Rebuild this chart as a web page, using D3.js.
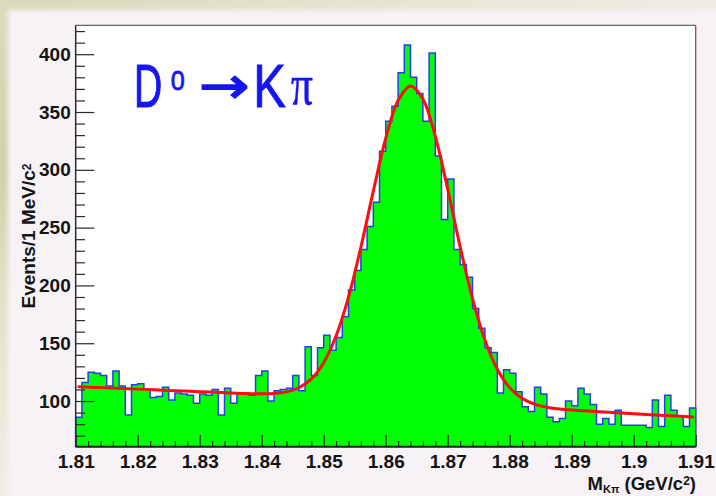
<!DOCTYPE html>
<html>
<head>
<meta charset="utf-8">
<script src="https://cdn.jsdelivr.net/npm/d3@7"></script>
<style>
  html, body { margin: 0; padding: 0; background: #f6f2f6; }
  svg { display: block; }
</style>
</head>
<body>
<svg id="chart" width="716" height="496"></svg>
<script>
// K-pi invariant mass histogram, 1 MeV bins from 1.81 to 1.91 GeV/c^2
const histRange = [1.81, 1.91];
const binCounts = [
  86, 116, 125, 124, 122, 113, 126, 113, 88, 114,
  115, 110, 103, 104, 112, 101, 107, 106, 105, 98,
  106, 105, 110, 88, 111, 98, 107, 107, 105, 122,
  126, 100, 109, 110, 111, 122, 109, 147, 122, 146,
  157, 144, 155, 173, 196, 213, 231, 251, 272, 316,
  342, 355, 384, 408, 380, 366, 342, 401, 312, 257,
  292, 231, 218, 207, 180, 163, 146, 142, 107, 127,
  124, 108, 95, 91, 112, 106, 86, 82, 85, 100,
  96, 111, 106, 97, 80, 85, 80, 92, 79, 79,
  79, 79, 77, 101, 78, 105, 92, 87, 78, 94
];

// fitted signal + background curve, sampled along the mass axis
const fitMass = [1.8105, 1.815, 1.820, 1.825, 1.830, 1.835, 1.838, 1.840, 1.842, 1.844,
  1.846, 1.848, 1.850, 1.852, 1.854, 1.856, 1.858, 1.860, 1.862, 1.864,
  1.866, 1.868, 1.870, 1.872, 1.874, 1.876, 1.878, 1.880, 1.882, 1.884,
  1.886, 1.888, 1.892, 1.896, 1.900, 1.905, 1.9095];
const fitEvents = [112.4, 111.4, 110.3, 109.2, 108.1, 107.0, 106.4, 106.2, 106.6, 107.9,
  111.5, 119.1, 133.2, 156.4, 189.9, 233.2, 281.6, 327.1, 360.0, 372.6,
  361.3, 329.0, 283.3, 233.6, 188.5, 152.7, 127.5, 111.5, 102.3, 97.3,
  94.7, 93.2, 91.6, 90.3, 89.0, 87.5, 86.2];

const xTickLabels = ["1.81", "1.82", "1.83", "1.84", "1.85", "1.86", "1.87", "1.88", "1.89", "1.9", "1.91"];
const yTickValues = [100, 150, 200, 250, 300, 350, 400];
const yRange = [60.5, 425];

const W = 716, H = 496;
const frame = { left: 75.7, right: 695.7, top: 25.3, bottom: 446.7 };

const svg = d3.select("#chart");
const defs = svg.append("defs");

// slide background behind the canvas
const lg = defs.append("linearGradient").attr("id", "leftBand").attr("x1", 0).attr("y1", 0).attr("x2", 0).attr("y2", 1);
lg.append("stop").attr("offset", "0").attr("stop-color", "#dddcc0");
lg.append("stop").attr("offset", "0.35").attr("stop-color", "#cfd0a9");
lg.append("stop").attr("offset", "0.6").attr("stop-color", "#e2e2c8");
lg.append("stop").attr("offset", "1").attr("stop-color", "#f0efe6");
const tg = defs.append("linearGradient").attr("id", "topBand").attr("x1", 0).attr("y1", 0).attr("x2", 1).attr("y2", 0);
tg.append("stop").attr("offset", "0").attr("stop-color", "#d9d8b9");
tg.append("stop").attr("offset", "0.5").attr("stop-color", "#e6e4d0");
tg.append("stop").attr("offset", "1").attr("stop-color", "#efece4");
defs.append("filter").attr("id", "soft").attr("x", "-20%").attr("y", "-20%").attr("width", "140%").attr("height", "140%")
  .append("feGaussianBlur").attr("stdDeviation", 2.5);

svg.append("rect").attr("width", W).attr("height", H).attr("fill", "#f6f2f6");
svg.append("rect").attr("x", -6).attr("y", -6).attr("width", W + 12).attr("height", 16)
  .attr("fill", "url(#topBand)").attr("filter", "url(#soft)");
svg.append("rect").attr("x", -6).attr("y", -6).attr("width", 14).attr("height", H + 12)
  .attr("fill", "url(#leftBand)").attr("filter", "url(#soft)");

// plot frame background
svg.append("rect")
  .attr("x", frame.left).attr("y", frame.top)
  .attr("width", frame.right - frame.left).attr("height", frame.bottom - frame.top)
  .attr("fill", "#ffffff");

const x = d3.scaleLinear().domain(histRange).range([frame.left, frame.right]);
const y = d3.scaleLinear().domain(yRange).range([frame.bottom, frame.top]);

const nBins = binCounts.length;
const binWidth = (histRange[1] - histRange[0]) / nBins;
const steps = binCounts.map((c, i) => ({ m: histRange[0] + i * binWidth, c }));
steps.push({ m: histRange[1], c: binCounts[nBins - 1] });

const plot = svg.append("g");

// filled histogram
plot.append("path")
  .datum(steps)
  .attr("fill", "#00ff00")
  .attr("d", d3.area().curve(d3.curveStepAfter)
    .x(d => x(d.m)).y0(frame.bottom).y1(d => y(d.c)));

// histogram outline
const outline = [{ m: histRange[0], c: yRange[0] }, ...steps, { m: histRange[1], c: yRange[0] }];
plot.append("path")
  .datum(outline)
  .attr("fill", "none")
  .attr("stroke", "#2a3cf2")
  .attr("stroke-width", 1.5)
  .attr("stroke-linejoin", "miter")
  .attr("d", d3.line().curve(d3.curveStepAfter).x(d => x(d.m)).y(d => y(d.c)));

// fit curve
plot.append("path")
  .datum(fitMass.map((m, i) => [m, fitEvents[i]]))
  .attr("fill", "none")
  .attr("stroke", "#ff0d0d")
  .attr("stroke-width", 3)
  .attr("stroke-linecap", "round")
  .attr("d", d3.line().curve(d3.curveCatmullRom.alpha(0.5)).x(d => x(d[0])).y(d => y(d[1])));

// frame edges
svg.append("line").attr("x1", frame.left).attr("x2", frame.right).attr("y1", frame.top).attr("y2", frame.top)
  .attr("stroke", "#666").attr("stroke-width", 1.2);
svg.append("line").attr("x1", frame.right).attr("x2", frame.right).attr("y1", frame.top).attr("y2", frame.bottom)
  .attr("stroke", "#a03a3a").attr("stroke-width", 1.2);

const labelFont = "'Liberation Sans', Arial, Helvetica, sans-serif";

// y axis: major and minor ticks pointing into the frame
const yMinor = d3.range(70, 421, 10).filter(v => !yTickValues.includes(v));
const yAxisMinor = svg.append("g").attr("transform", `translate(${frame.left},0)`)
  .call(d3.axisLeft(y).tickValues(yMinor).tickSizeInner(-9.3).tickSizeOuter(0).tickFormat(""));
const yAxis = svg.append("g").attr("transform", `translate(${frame.left},0)`)
  .call(d3.axisLeft(y).tickValues(yTickValues).tickSizeInner(-18.6).tickSizeOuter(0).tickPadding(5));

// x axis
const xMajor = xTickLabels.map(s => +s);
const xMinor = d3.range(0, 51).map(k => histRange[0] + k * 0.002).filter((v, k) => k % 5 !== 0);
const xAxisMinor = svg.append("g").attr("transform", `translate(0,${frame.bottom})`)
  .call(d3.axisBottom(x).tickValues(xMinor).tickSizeInner(-5.8).tickSizeOuter(0).tickFormat(""));
const xAxis = svg.append("g").attr("transform", `translate(0,${frame.bottom})`)
  .call(d3.axisBottom(x).tickValues(xMajor).tickSizeInner(-11.7).tickSizeOuter(0).tickPadding(8)
    .tickFormat((d, i) => xTickLabels[i]));

[yAxisMinor, yAxis, xAxisMinor, xAxis].forEach(g => {
  g.select(".domain").remove();
  g.selectAll(".tick line").attr("stroke", "#2a2a2a").attr("stroke-width", 1.2);
  g.selectAll(".tick text").attr("fill", "#141414")
    .style("font-family", labelFont).style("font-weight", "bold").style("font-size", "19px");
});

// main axis lines
svg.append("line").attr("x1", frame.left).attr("x2", frame.left).attr("y1", frame.top).attr("y2", frame.bottom)
  .attr("stroke", "#2a2a2a").attr("stroke-width", 1.5);
svg.append("line").attr("x1", frame.left).attr("x2", frame.right).attr("y1", frame.bottom).attr("y2", frame.bottom)
  .attr("stroke", "#1a1a1a").attr("stroke-width", 2);

// axis titles
const yTitle = svg.append("text")
  .attr("transform", "translate(35,236) rotate(-90)")
  .attr("text-anchor", "middle")
  .attr("fill", "#141414")
  .style("font-family", labelFont).style("font-weight", "bold").style("font-size", "19px");
yTitle.append("tspan").text("Events/1 MeV/c");
yTitle.append("tspan").attr("baseline-shift", "35%").style("font-size", "12px").text("2");

const xTitle = svg.append("text")
  .attr("x", 696).attr("y", 489.5)
  .attr("text-anchor", "end")
  .attr("fill", "#141414")
  .style("font-family", labelFont).style("font-weight", "bold").style("font-size", "18.5px");
xTitle.append("tspan").text("M");
xTitle.append("tspan").attr("baseline-shift", "-25%").style("font-size", "11px").text("Kπ");
xTitle.append("tspan").text(" (GeV/c");
xTitle.append("tspan").attr("baseline-shift", "40%").style("font-size", "12px").text("2");
xTitle.append("tspan").text(")");

// decay label: each glyph placed and narrowed with its own transform
const blue = "#1414f5";
const decayParts = [
  { t: "D", x: 134,   y: 107,   sx: 0.64, size: 61, font: "'Liberation Sans', sans-serif",  sw: 1.2 },
  { t: "0", x: 170.7, y: 90,    sx: 0.9,  size: 28, font: "'Liberation Sans', sans-serif",  sw: 0.8 },
  { t: "→", x: 199,   y: 103,   sx: 1.2,  size: 50, font: "'DejaVu Sans', sans-serif",      sw: 1.6 },
  { t: "K", x: 253.3, y: 107,   sx: 0.8,  size: 61, font: "'Liberation Sans', sans-serif",  sw: 1.0 },
  { t: "π", x: 291,   y: 104,   sx: 0.75, size: 58, font: "'Liberation Serif', serif",      sw: 0.5 }
];
svg.append("g").selectAll("text").data(decayParts).join("text")
  .attr("transform", d => `translate(${d.x},${d.y}) scale(${d.sx},1)`)
  .attr("fill", blue).attr("stroke", blue).attr("stroke-width", d => d.sw)
  .style("font-family", d => d.font).style("font-size", d => d.size + "px")
  .text(d => d.t);
</script>
</body>
</html>
